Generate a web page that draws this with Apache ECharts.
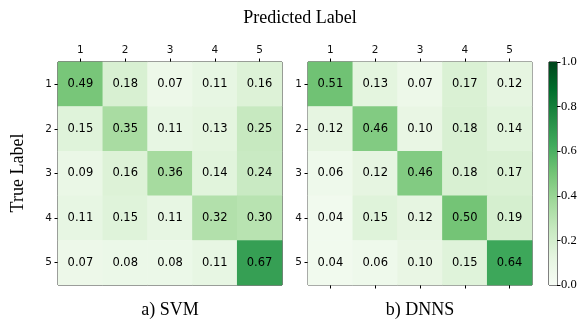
<!DOCTYPE html>
<html>
<head>
<meta charset="utf-8">
<script src="https://cdn.jsdelivr.net/npm/echarts@6/dist/echarts.min.js"></script>
<style>html,body{margin:0;padding:0;background:#fff;}#c{width:582px;height:320px;}</style>
</head>
<body>
<div id="c"></div>
<script>
const categories = ['1', '2', '3', '4', '5'];
const svmMatrix = [
  [0.49, 0.18, 0.07, 0.11, 0.16],
  [0.15, 0.35, 0.11, 0.13, 0.25],
  [0.09, 0.16, 0.36, 0.14, 0.24],
  [0.11, 0.15, 0.11, 0.32, 0.30],
  [0.07, 0.08, 0.08, 0.11, 0.67]
];
const dnnsMatrix = [
  [0.51, 0.13, 0.07, 0.17, 0.12],
  [0.12, 0.46, 0.10, 0.18, 0.14],
  [0.06, 0.12, 0.46, 0.18, 0.17],
  [0.04, 0.15, 0.12, 0.50, 0.19],
  [0.04, 0.06, 0.10, 0.15, 0.64]
];
const colorbarTicks = [0, 0.2, 0.4, 0.6, 0.8, 1.0];
const greens = ['#f7fcf5','#e5f5e0','#c7e9c0','#a1d99b','#74c476','#41ab5d','#238b45','#006d2c','#00441b'];

function toCells(m) {
  const out = [];
  m.forEach((row, r) => row.forEach((v, c) => out.push([c, r, v])));
  return out;
}

const chart = echarts.init(document.getElementById('c'), null, {renderer: 'canvas'});
const sansTick = {fontSize: 10.5, color: '#111', fontFamily: 'DejaVu Sans'};
const serif = 'Liberation Serif';

function xAxisTop(gi) {
  return {
    type: 'category', data: categories, gridIndex: gi, position: 'top',
    axisLine: {show: false},
    axisTick: {show: true, alignWithLabel: true, length: 3.5, lineStyle: {color: '#000', width: 1}},
    axisLabel: Object.assign({margin: 6}, sansTick),
    splitLine: {show: false}
  };
}
function yAxisLeft(gi) {
  return {
    type: 'category', data: categories, gridIndex: gi, inverse: true,
    axisLine: {show: false},
    axisTick: {show: true, alignWithLabel: true, length: 3.5, lineStyle: {color: '#000', width: 1}},
    axisLabel: Object.assign({margin: 6}, sansTick),
    splitLine: {show: false}
  };
}
const cellLabel = {
  show: true, color: '#000', fontSize: 11.5, fontFamily: 'DejaVu Sans',
  formatter: p => p.value[2].toFixed(2)
};
const gridBase = {show: true, borderWidth: 1, backgroundColor: 'transparent', containLabel: false, outerBoundsMode: 'none'};

const option = {
  backgroundColor: '#fff',
  animation: false,
  grid: [
    Object.assign({left: 58, top: 62, width: 224, height: 223, borderColor: '#000'}, gridBase),
    Object.assign({left: 308, top: 62, width: 224, height: 223, borderColor: '#222'}, gridBase),
    Object.assign({left: 549, top: 62, width: 8, height: 223, borderColor: '#000'}, gridBase)
  ],
  xAxis: [
    xAxisTop(0),
    xAxisTop(1),
    {
      type: 'category', data: categories, gridIndex: 1, position: 'bottom',
      axisLine: {show: false},
      axisTick: {show: true, alignWithLabel: true, length: 3.5, lineStyle: {color: '#000'}},
      axisLabel: {show: false}, splitLine: {show: false}
    },
    {type: 'category', data: ['c'], gridIndex: 2, show: false, boundaryGap: true}
  ],
  yAxis: [
    yAxisLeft(0),
    yAxisLeft(1),
    {
      type: 'value', gridIndex: 2, min: 0, max: 1, interval: 0.2, position: 'right',
      axisLine: {show: false},
      axisTick: {show: true, length: 3.5, lineStyle: {color: '#000'}},
      axisLabel: {show: true, margin: 4, fontSize: 12.5, color: '#000', fontFamily: serif, formatter: v => v.toFixed(1)},
      splitLine: {show: false}
    }
  ],
  visualMap: {
    show: false, type: 'continuous', min: 0, max: 1, dimension: 2, seriesIndex: [0, 1],
    inRange: {color: greens}
  },
  series: [
    {type: 'heatmap', xAxisIndex: 0, yAxisIndex: 0, data: toCells(svmMatrix), label: cellLabel, emphasis: {disabled: true}},
    {type: 'heatmap', xAxisIndex: 1, yAxisIndex: 1, data: toCells(dnnsMatrix), label: cellLabel, emphasis: {disabled: true}},
    {
      type: 'bar', xAxisIndex: 3, yAxisIndex: 2, data: [colorbarTicks[colorbarTicks.length - 1]],
      barWidth: '100%', silent: true,
      itemStyle: {
        color: new echarts.graphic.LinearGradient(0, 1, 0, 0,
          greens.map((c, i) => ({offset: i / (greens.length - 1), color: c})))
      }
    }
  ],
  graphic: [
    {type: 'text', x: 300, y: 18, style: {text: 'Predicted Label', font: '18px "Liberation Serif"', textAlign: 'center', textVerticalAlign: 'middle', fill: '#000'}},
    {type: 'text', x: 18, y: 173, rotation: Math.PI / 2, style: {text: 'True Label', font: '18px "Liberation Serif"', textAlign: 'center', textVerticalAlign: 'middle', fill: '#000'}},
    {type: 'text', x: 170, y: 310, style: {text: 'a) SVM', font: '18px "Liberation Serif"', textAlign: 'center', textVerticalAlign: 'middle', fill: '#000'}},
    {type: 'text', x: 420, y: 310, style: {text: 'b) DNNS', font: '18px "Liberation Serif"', textAlign: 'center', textVerticalAlign: 'middle', fill: '#000'}}
  ]
};
chart.setOption(option);
</script>
</body>
</html>
